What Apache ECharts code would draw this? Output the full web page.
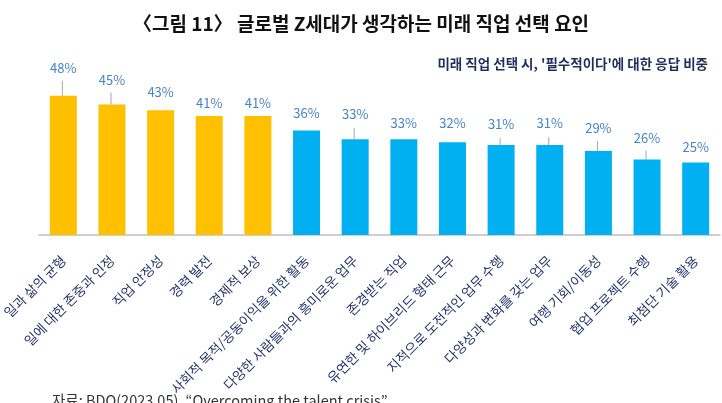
<!DOCTYPE html>
<html>
<head>
<meta charset="utf-8">
<script src="https://cdn.jsdelivr.net/npm/echarts@6/dist/echarts.min.js"></script>
<style>
  html, body { margin: 0; padding: 0; background: #fff; }
  #chart { width: 722px; height: 403px; }
</style>
</head>
<body>
<div id="chart"></div>
<script>
const categories = [
  '일과 삶의 균형', '일에 대한 존중과 인정', '직업 안정성', '경력 발전', '경제적 보상',
  '사회적 목적/공동이익을 위한 활동', '다양한 사람들과의 흥미로운 업무', '존경받는 직업',
  '유연한 및 하이브리드 형태 근무', '지적으로 도전적인 업무 수행', '다양성과 변화를 갖는 업무',
  '여행 기회/이동성', '협업 프로젝트 수행', '최첨단 기술 활용'
];
const values = [48, 45, 43, 41, 41, 36, 33, 33, 32, 31, 31, 29, 26, 25];
// top 5 are highlighted in yellow
const highlightCount = 5;

// label placement (layout only)
const labelDistance = [16, 13, 7, 2, 2, 6, 14, 5, 8, 10, 11, 11, 10, 4];
const leaderLength = [15, 12, 0, 0, 0, 0, 11, 0, 0, 7, 8, 10, 9, 0];

const chartDom = document.getElementById('chart');
const myChart = echarts.init(chartDom);

const fontFamily = '"Noto Sans CJK KR", "Noto Sans", sans-serif';

const seriesData = values.map((v, i) => ({
  value: v,
  itemStyle: { color: i < highlightCount ? '#FFC000' : '#00B0F0' },
  label: { distance: labelDistance[i] }
}));

const option = {
  animation: false,
  textStyle: { fontFamily },
  title: [
    {
      text: '〈그림 11〉 글로벌 Z세대가 생각하는 미래 직업 선택 요인',
      left: 'center',
      top: 9,
      textStyle: { fontSize: 19, fontWeight: 'bold', color: '#111', fontFamily }
    },
    {
      text: "미래 직업 선택 시, '필수적이다'에 대한 응답 비중",
      right: 9,
      top: 52,
      textStyle: { fontSize: 13.5, fontWeight: 'bold', color: '#1f2f5c', fontFamily }
    },
    {
      text: '자료: BDO(2023.05), “Overcoming the talent crisis”',
      left: 47,
      top: 388,
      textStyle: { fontSize: 14.5, fontWeight: 'normal', color: '#333', fontFamily }
    }
  ],
  grid: { left: 39, right: 2, top: 61, bottom: 168, containLabel: false, outerBoundsMode: 'none' },
  xAxis: {
    type: 'category',
    data: categories,
    axisLine: { lineStyle: { color: '#bfbfbf', width: 1.5 } },
    axisTick: { show: false },
    axisLabel: {
      rotate: 45,
      interval: 0,
      margin: 23,
      fontSize: 13.5,
      color: '#23366a',
      fontFamily
    }
  },
  yAxis: {
    type: 'value',
    min: 0,
    max: 60,
    show: false,
    splitLine: { show: false }
  },
  series: [
    {
      type: 'bar',
      data: seriesData,
      barWidth: 27,
      label: {
        show: true,
        position: 'top',
        formatter: '{c}%',
        fontSize: 13,
        color: '#4584c6',
        padding: [0, 0, 5, 0],
        fontFamily
      }
    },
    {
      // thin leader lines between some labels and their bars
      type: 'custom',
      data: values.map((v, i) => [i, v]),
      renderItem: (params, api) => {
        const i = api.value(0);
        const len = leaderLength[i];
        if (!len) return null;
        const p = api.coord([i, api.value(1)]);
        return {
          type: 'line',
          shape: { x1: p[0] - 1, y1: p[1], x2: p[0] - 1, y2: p[1] - len },
          style: { stroke: '#a6a6a6', lineWidth: 1 }
        };
      },
      z: 1
    }
  ]
};

myChart.setOption(option);
</script>
</body>
</html>
